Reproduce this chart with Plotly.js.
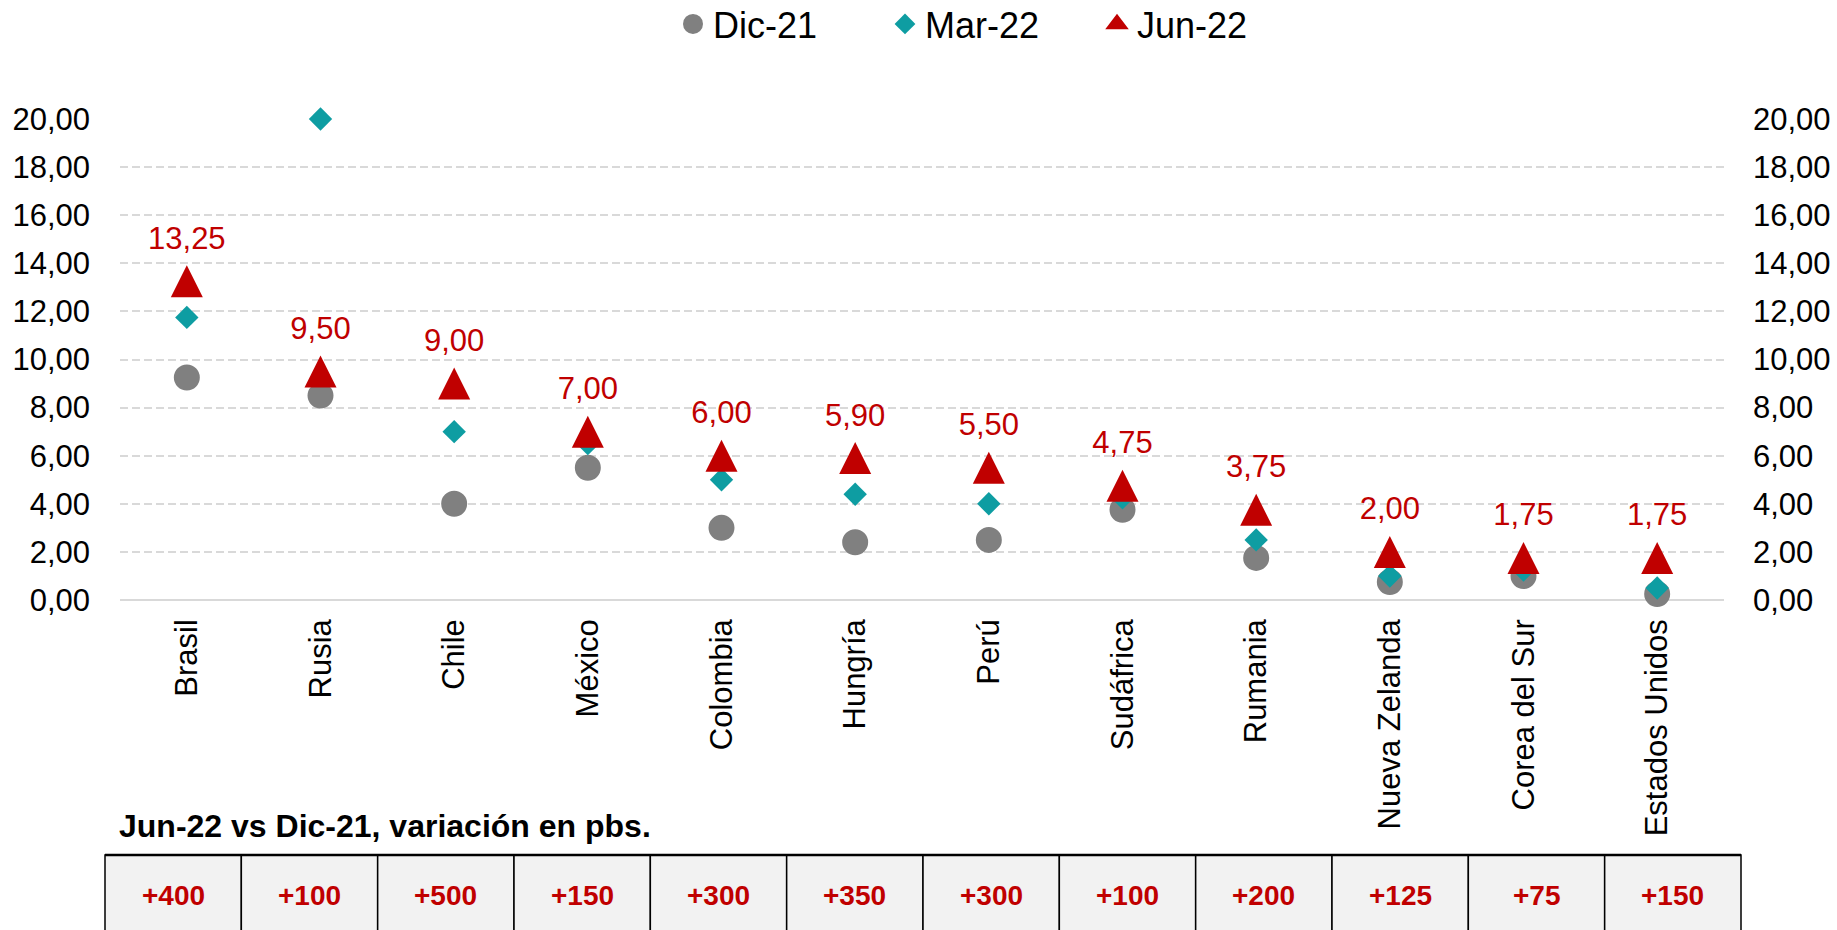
<!DOCTYPE html>
<html><head><meta charset="utf-8">
<script src="https://cdn.plot.ly/plotly-3.0.1.min.js"></script>
<style>html,body{margin:0;padding:0;overflow:hidden;background:#fff}#chart{width:1837px;height:930px}</style>
</head><body><div id="chart"></div>
<script>
const categories = ['Brasil','Rusia','Chile','México','Colombia','Hungría','Perú','Sudáfrica','Rumania','Nueva Zelanda','Corea del Sur','Estados Unidos'];
const dic21 = [9.25, 8.5, 4.0, 5.5, 3.0, 2.4, 2.5, 3.75, 1.75, 0.75, 1.0, 0.25];
const mar22 = [11.75, 20.0, 7.0, 6.5, 5.0, 4.4, 4.0, 4.25, 2.5, 1.0, 1.25, 0.5];
const jun22 = [13.25, 9.5, 9.0, 7.0, 6.0, 5.9, 5.5, 4.75, 3.75, 2.0, 1.75, 1.75];
const variacionPbs = ['+400','+100','+500','+150','+300','+350','+300','+100','+200','+125','+75','+150'];
const seriesNames = ['Dic-21','Mar-22','Jun-22'];
const tableTitle = 'Jun-22 vs Dic-21, variación en pbs.';

const W = 1837, H = 930;
const FONT = 'Liberation Sans, Arial, sans-serif';
const RED = '#C00000', TEAL = '#0E9DA2', GRAY = '#808080';

const traces = [
  {type:'scatter', mode:'markers', name:seriesNames[0], x:categories, y:dic21, cliponaxis:false,
   marker:{symbol:'circle', size:22, color:GRAY, line:{color:GRAY, width:4}}},
  {type:'scatter', mode:'markers', name:seriesNames[1], x:categories, y:mar22, cliponaxis:false,
   marker:{symbol:'diamond', size:18, color:TEAL, line:{width:0}}},
  {type:'scatter', mode:'markers', name:seriesNames[2], showlegend:false, x:categories, y:jun22, cliponaxis:false,
   marker:{symbol:'arrow-down', angle:180, standoff:16, size:32, color:RED, line:{width:0}}},
  // legend entry for Jun-22 (no data points drawn)
  {type:'scatter', mode:'markers', name:seriesNames[2], x:[null], y:[null],
   marker:{symbol:'triangle-up', size:16, color:RED, line:{color:RED, width:2.5}}},
  // value labels for Jun-22, on the right-hand axis (same 0-20 scale)
  {type:'scatter', mode:'markers+text', showlegend:false, hoverinfo:'skip', x:categories, y:jun22, yaxis:'y2', cliponaxis:false,
   marker:{size:38, color:'rgba(0,0,0,0)'},
   texttemplate:'%{y:.2f}', textposition:'top center', textfont:{family:FONT, size:31, color:RED}}
];

// table under the chart: one cell per category, built from variacionPbs
const tblL = 105, tblR = 1741, tblTop = 855, tblTextY = 895;
const cw = (tblR - tblL) / variacionPbs.length;
const shapes = variacionPbs.map((v, i) => ({
  type:'rect', xref:'paper', yref:'paper', layer:'above',
  x0:(tblL + i*cw)/W, x1:(tblL + (i+1)*cw)/W, y0:-0.1, y1:(H - tblTop)/H,
  fillcolor:'#F2F2F2', line:{color:'#000000', width:1.5}
}));
shapes.push({type:'line', xref:'paper', yref:'paper', layer:'above',
  x0:tblL/W, x1:tblR/W, y0:(H - tblTop)/H, y1:(H - tblTop)/H, line:{color:'#000000', width:2.5}});

const annotations = variacionPbs.map((v, i) => ({
  xref:'paper', yref:'paper', x:(tblL + (i+0.5)*cw)/W, y:(H - tblTextY)/H, xanchor:'center', yanchor:'middle',
  text:'<b>'+v+'</b>', showarrow:false, font:{family:FONT, size:28, color:RED}
}));
annotations.push({xref:'paper', yref:'paper', x:117/W, y:(H-826)/H, xanchor:'left', yanchor:'middle',
  text:'<b>'+tableTitle+'</b>', showarrow:false, font:{family:FONT, size:32, color:'#000'}});

const yTickVals = [0,2,4,6,8,10,12,14,16,18,20];
const layout = {
  width:W, height:H, margin:{l:0,r:0,t:0,b:0, autoexpand:false},
  paper_bgcolor:'#fff', plot_bgcolor:'rgba(0,0,0,0)',
  separators:',.',
  font:{family:FONT, size:31, color:'#000'},
  showlegend:true,
  legend:{orientation:'h', x:673/W, xanchor:'left', y:1 + 6/H, yanchor:'top',
          font:{family:FONT, size:36, color:'#000'}, entrywidth:167, traceorder:'normal'},
  xaxis:{type:'category', range:[-0.5, categories.length - 0.5], domain:[120/W, 1724/W], tickangle:-90, ticks:'', showgrid:false,
         showline:false, zeroline:false, tickfont:{family:FONT, size:31, color:'#000'}, ticklabelstandoff:12,
         fixedrange:true},
  yaxis:{range:[0,20], domain:[(H-600)/H, (H-119)/H], tickvals:yTickVals, tickformat:'.2f', ticks:'',
         showgrid:true, gridcolor:'#D9D9D9', gridwidth:2, griddash:'8px,4px',
         zeroline:true, zerolinecolor:'#D9D9D9', zerolinewidth:2, showline:false,
         tickfont:{family:FONT, size:31, color:'#000'}, ticklabelstandoff:29, fixedrange:true},
  yaxis2:{range:[0,20], overlaying:'y', side:'right', tickvals:yTickVals, tickformat:'.2f', ticks:'',
          showgrid:false, zeroline:false, showline:false,
          tickfont:{family:FONT, size:31, color:'#000'}, ticklabelstandoff:28, fixedrange:true},
  shapes:shapes,
  annotations:annotations
};

Plotly.newPlot('chart', traces, layout, {displayModeBar:false, staticPlot:true});
</script></body></html>
